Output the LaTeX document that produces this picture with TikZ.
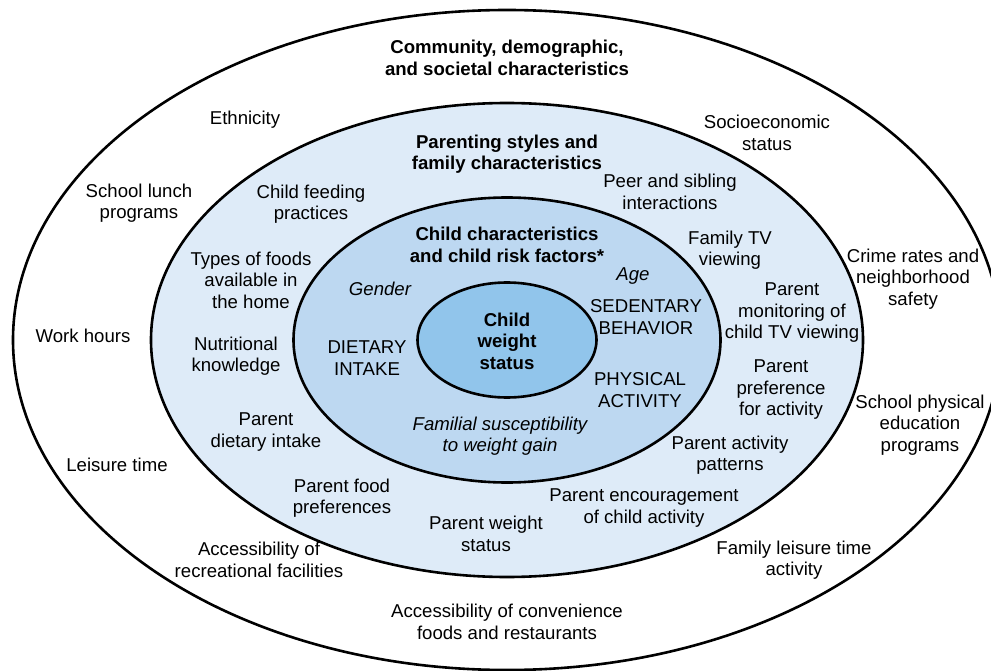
\documentclass[tikz,border=0pt]{standalone}
\usepackage{fontspec}
\setmainfont{Liberation Sans}
\usepackage{xcolor}
\usepackage{tikz}
\definecolor{famfill}{RGB}{222,235,248}
\definecolor{kidfill}{RGB}{189,216,241}
\definecolor{corefill}{RGB}{145,197,235}

\begin{document}
\begin{tikzpicture}[x=1pt,y=-1pt,font=\fontsize{18.6}{21.5}\selectfont,
  ring/.style={draw=black,line width=2.6pt},
  n/.style={align=center,inner sep=0pt},
  hd/.style={n,font=\fontsize{18.6}{21.5}\selectfont\bfseries},
  em/.style={n,font=\fontsize{18.6}{21.5}\selectfont\itshape}]
\clip (0,0) rectangle (991,671);
\fill[white] (0,0) rectangle (991,671);
% rings
\draw[ring,fill=white] (507,340) ellipse [x radius=494,y radius=330];
\draw[ring,fill=famfill] (507,340) ellipse [x radius=356,y radius=237];
\draw[ring,fill=kidfill] (507,340) ellipse [x radius=213.5,y radius=142.5];
\draw[ring,fill=corefill] (507,340) ellipse [x radius=89.5,y radius=57.5];
% outer ring
\node[hd] (comm) at (507,58) {Community, demographic,\\and societal characteristics};
\node[n] (eth) at (245,120) {Ethnicity};
\node[n] (ses) at (767,133) {Socioeconomic\\status};
\node[n] (lunch) at (139,203) {School lunch\\programs};
\node[n] (crime) at (913,279) {Crime rates and\\neighborhood\\safety};
\node[n] (work) at (83,336) {Work hours};
\node[n] (pe) at (920,425) {School physical\\education\\programs};
\node[n] (leis) at (117,465) {Leisure time};
\node[n] (recr) at (259,560) {Accessibility of\\recreational facilities};
\node[n] (famleis) at (794,560) {Family leisure time\\activity};
\node[n] (conv) at (507,622) {Accessibility of convenience\\foods and restaurants};
% family ring
\node[hd] (fam) at (507,154) {Parenting styles and\\family characteristics};
\node[n] (feed) at (311,204) {Child feeding\\practices};
\node[n] (peer) at (670,192) {Peer and sibling\\interactions};
\node[n] (famtv) at (730,250) {Family TV\\viewing};
\node[n] (types) at (251,280) {Types of foods\\available in\\the home};
\node[n] (montv) at (792,313) {Parent\\monitoring of\\child TV viewing};
\node[n] (nutr) at (236,356) {Nutritional\\knowledge};
\node[n] (pref) at (781,390) {Parent\\preference\\for activity};
\node[n] (pdiet) at (266,432) {Parent\\dietary intake};
\node[n] (pact) at (730,455) {Parent activity\\patterns};
\node[n] (pfood) at (342,498) {Parent food\\preferences};
\node[n] (penc) at (644,508) {Parent encouragement\\of child activity};
\node[n] (pwt) at (486,534) {Parent weight\\status};
% child ring
\node[hd] (kid) at (507,245) {Child characteristics\\and child risk factors*};
\node[em] (gender) at (380,289) {Gender};
\node[em] (age) at (633,276) {Age};
\node[n] (sed) at (646,317) {SEDENTARY\\BEHAVIOR};
\node[n] (diet) at (367,358) {DIETARY\\INTAKE};
\node[n] (phys) at (640,390) {PHYSICAL\\ACTIVITY};
\node[em] (fsus) at (500,436) {Familial susceptibility\\to weight gain};
% core
\node[hd] (cws) at (507,341) {Child\\weight\\status};
\end{tikzpicture}
\end{document}
